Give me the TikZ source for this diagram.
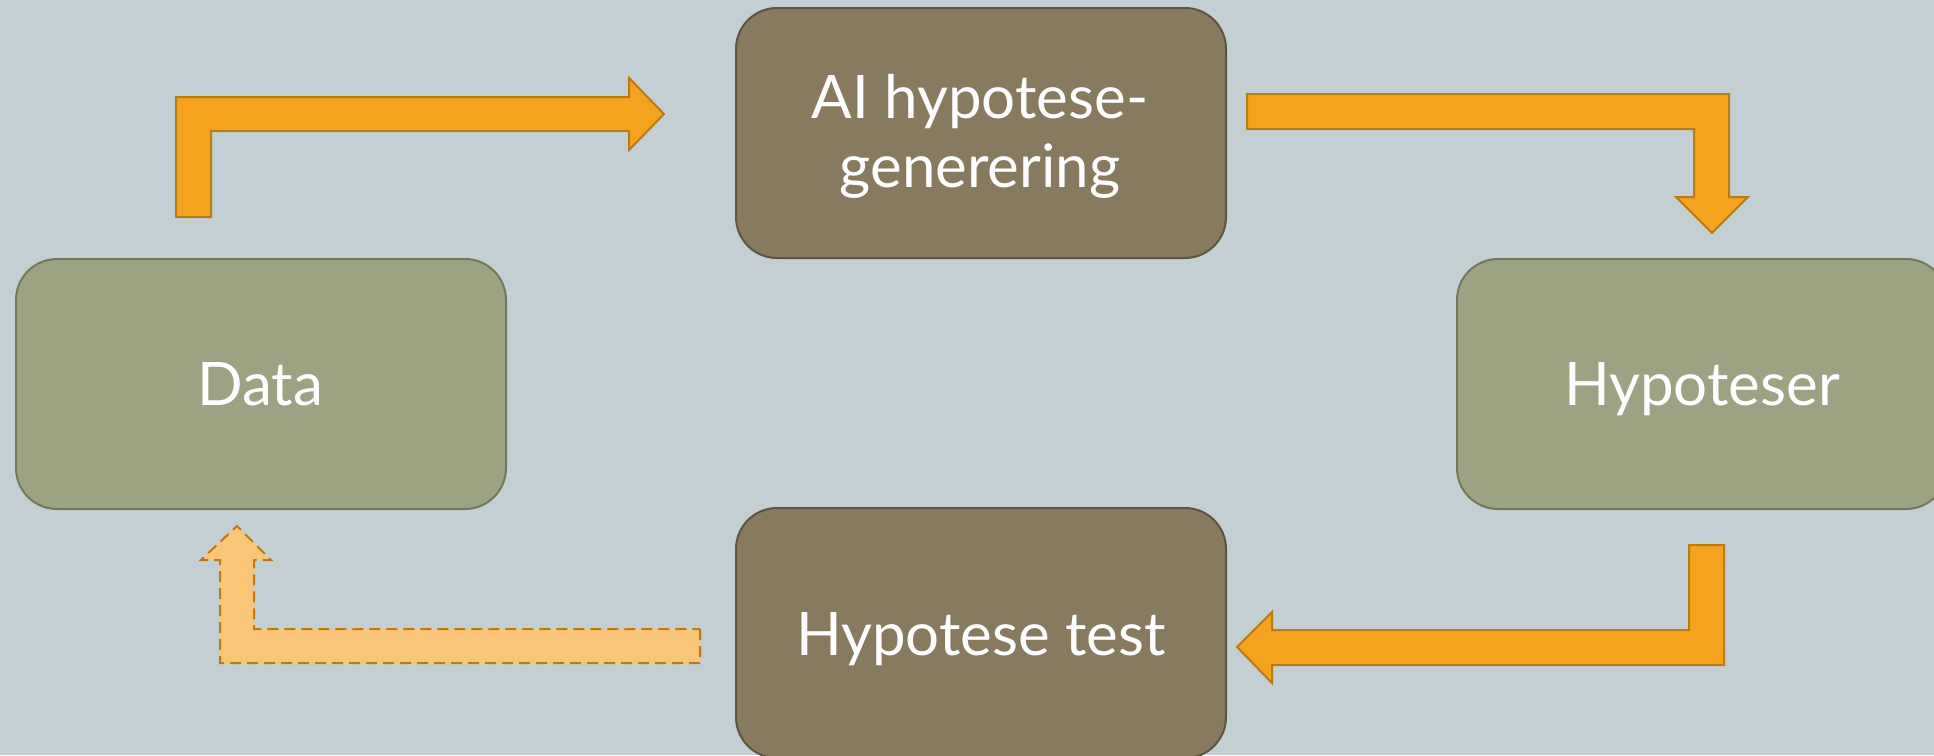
\documentclass[tikz,border=0pt]{standalone}
\usepackage{fontspec}
\setmainfont{Lato}
\definecolor{bg}{HTML}{C4CFD4}
\definecolor{greenfill}{HTML}{9CA383}
\definecolor{greenline}{HTML}{737858}
\definecolor{brownfill}{HTML}{877A5E}
\definecolor{brownline}{HTML}{5E5440}
\definecolor{orangefill}{HTML}{F5A31E}
\definecolor{orangeline}{HTML}{BA7A14}
\definecolor{lightorange}{HTML}{F9C677}
\tikzset{
  box/.style={rounded corners=41pt, line width=2pt, minimum width=490pt, minimum height=250pt,
    inner sep=0pt, anchor=north west},
  greenbox/.style={box, fill=greenfill, draw=greenline},
  brownbox/.style={box, fill=brownfill, draw=brownline},
  label/.style={text=white, font=\fontsize{60}{70}\selectfont, anchor=base, inner sep=0pt},
  bentarrow/.style={fill=orangefill, draw=orangeline, line width=2pt, line join=miter},
  dashedarrow/.style={fill=lightorange, draw=orangeline, line width=2pt, dash pattern=on 11pt off 6pt},
}
\begin{document}
\begin{tikzpicture}[x=1pt,y=-1pt]
\fill[bg] (0,0) rectangle (1934,755);
\useasboundingbox (0,0) rectangle (1934,755);
\begin{scope}
\clip (0,0) rectangle (1934,755);
\node[greenbox] (data) at (15,258) {};
\node[brownbox] (ai) at (735,7) {};
\node[greenbox] (hyp) at (1456,258) {};
\node[brownbox] (test) at (735,507) {};
\end{scope}
\node[label] (datat) at (260,405) {Data};
\node[label] (hypt) at (1702,405) {Hypoteser};
\node[label] (testt) at (981,655) {Hypotese test};
\node[label] (ait1) at (980,118) {AI hypotese-};
\node[label] (ait2) at (980,187) {generering};
% arrow Data -> AI
\draw[bentarrow] (176,217) -- (176,97) -- (629,97) -- (629,78) -- (664,114) -- (629,150) -- (629,131) -- (211,131) -- (211,217) -- cycle;
% arrow AI -> Hypoteser
\draw[bentarrow] (1247,94) -- (1729,94) -- (1729,197) -- (1748,197) -- (1712,233) -- (1676,197) -- (1694,197) -- (1694,129) -- (1247,129) -- cycle;
% arrow Hypoteser -> test
\draw[bentarrow] (1689,545) -- (1724,545) -- (1724,665) -- (1272,665) -- (1272,683) -- (1237,647) -- (1272,612) -- (1272,630) -- (1689,630) -- cycle;
% dashed arrow test -> Data
\draw[dashedarrow] (700,629) -- (700,663) -- (220,663) -- (220,560) -- (201,560) -- (237,526) -- (271,560) -- (254,560) -- (254,629) -- cycle;
\end{tikzpicture}
\end{document}
